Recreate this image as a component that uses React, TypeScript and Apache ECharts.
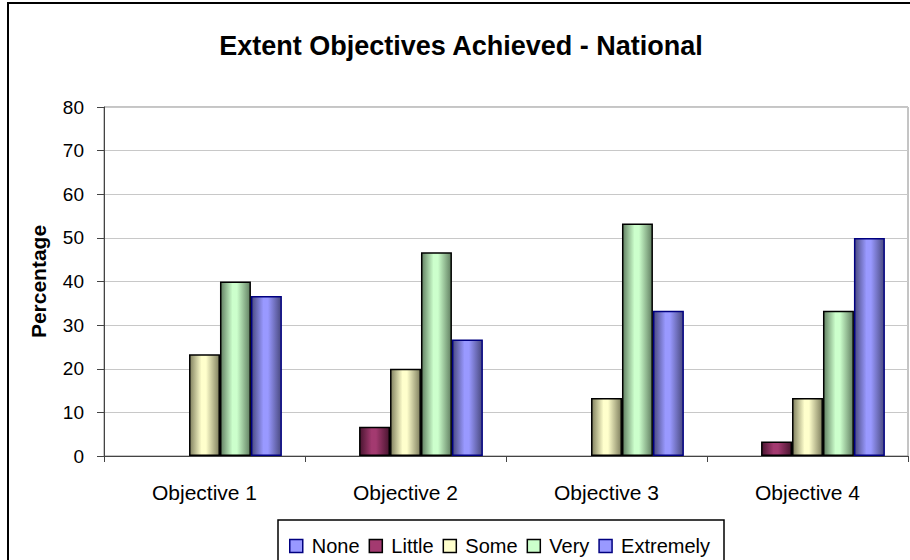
import React, { useEffect, useRef } from "react";
import * as echarts from "echarts";

const categories = ["Objective 1", "Objective 2", "Objective 3", "Objective 4"];
const seriesNames = ["None", "Little", "Some", "Very", "Extremely"];
const noneValues = [0, 0, 0, 0];
const littleValues = [0, 6.7, 0, 3.3];
const someValues = [23.3, 20, 13.3, 13.3];
const veryValues = [40, 46.7, 53.3, 33.3];
const extremelyValues = [36.7, 26.7, 33.3, 50];
const yTicks = [0, 10, 20, 30, 40, 50, 60, 70, 80];

const FONT = "'Liberation Sans', Arial, sans-serif";

type Palette = { base: string; edge: string; border: string };
const palettes: Palette[] = [
  { base: "#9999FF", edge: "#4A4A80", border: "#000080" },
  { base: "#A33A70", edge: "#4A1530", border: "#000000" },
  { base: "#FFFFCC", edge: "#80805F", border: "#000000" },
  { base: "#CCFFCC", edge: "#628062", border: "#000000" },
  { base: "#9999FF", edge: "#4A4A80", border: "#000080" },
];

// Horizontal shading: dark edges, bright band slightly left of centre
function barFill(p: Palette) {
  return new echarts.graphic.LinearGradient(0, 0, 1, 0, [
    { offset: 0, color: p.edge },
    { offset: 0.4, color: p.base },
    { offset: 0.55, color: p.base },
    { offset: 1, color: p.edge },
  ]);
}

export default function App() {
  const ref = useRef<HTMLDivElement>(null);

  useEffect(() => {
    if (!ref.current) return;
    const chart = echarts.init(ref.current, undefined, { renderer: "svg" });
    const values = [noneValues, littleValues, someValues, veryValues, extremelyValues];

    chart.setOption({
      animation: false,
      backgroundColor: "#ffffff",
      title: {
        text: "Extent Objectives Achieved - National",
        left: 456,
        textAlign: "center",
        top: 27,
        textStyle: { fontFamily: FONT, fontWeight: "bold", fontSize: 27, color: "#000" },
      },
      legend: {
        left: 284,
        top: 531,
        itemWidth: 13,
        itemHeight: 13,
        itemGap: 9,
        icon: "rect",
        textStyle: { fontFamily: FONT, fontSize: 20, color: "#000", padding: [0, 0, 0, 4] },
        data: seriesNames.map((name, i) => ({
          name,
          itemStyle: { color: palettes[i].base, borderColor: palettes[i].border, borderWidth: 1.5 },
        })),
      },
      grid: {
        left: 104,
        right: 2,
        top: 107,
        bottom: 104,
        show: true,
        borderColor: "#8a8a8a",
        borderWidth: 1,
      },
      xAxis: {
        type: "category",
        data: categories,
        axisLine: { lineStyle: { color: "#444", width: 1 } },
        axisTick: { show: true, alignWithLabel: false, length: 6, lineStyle: { color: "#444" } },
        axisLabel: { fontFamily: FONT, fontSize: 21, color: "#000", margin: 26 },
      },
      yAxis: {
        type: "value",
        min: yTicks[0],
        max: yTicks[yTicks.length - 1],
        interval: 10,
        name: "Percentage",
        nameLocation: "middle",
        nameGap: 55,
        nameRotate: 90,
        nameTextStyle: { fontFamily: FONT, fontSize: 21, fontWeight: "bold", color: "#000" },
        axisLine: { show: true, lineStyle: { color: "#444", width: 1 } },
        axisTick: { show: true, length: 7, lineStyle: { color: "#444" } },
        axisLabel: { fontFamily: FONT, fontSize: 19, color: "#000", margin: 20 },
        splitLine: { lineStyle: { color: "#c8c8c8", width: 1 } },
      },
      series: seriesNames.map((name, i) => ({
        name,
        type: "bar",
        data: values[i].map((v) => ({
          value: v,
          // zero-height bars would otherwise leave a stroke along the axis
          itemStyle: v === 0 ? { borderWidth: 0 } : undefined,
        })),
        barGap: "0%",
        barCategoryGap: "23%",
        itemStyle: {
          color: barFill(palettes[i]),
          borderColor: palettes[i].border,
          borderWidth: 1.5,
        },
      })),
      graphic: [
        {
          type: "rect",
          shape: { x: 8, y: 3, width: 940, height: 600 },
          style: { fill: "none", stroke: "#000", lineWidth: 2 },
          silent: true,
        },
        {
          type: "rect",
          shape: { x: 278, y: 520, width: 446, height: 60 },
          style: { fill: "none", stroke: "#000", lineWidth: 1.5 },
          silent: true,
        },
      ],
    });

    return () => chart.dispose();
  }, []);

  return (
    <div
      ref={ref}
      style={{ position: "fixed", left: 0, top: 0, width: 910, height: 560 }}
    />
  );
}
